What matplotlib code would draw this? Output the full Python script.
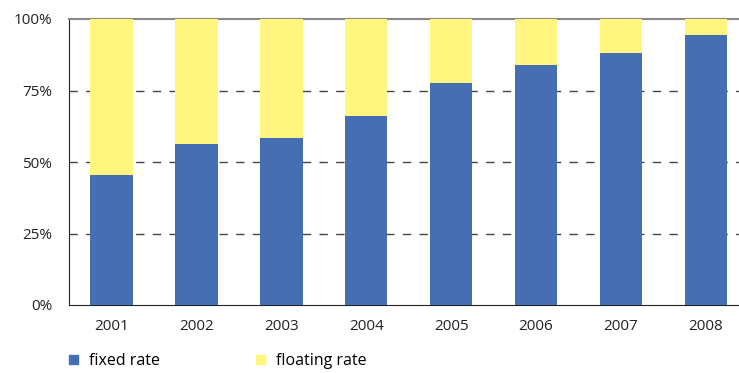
import numpy as np
import matplotlib.pyplot as plt
from matplotlib.patches import Patch

years = ['2001', '2002', '2003', '2004', '2005', '2006', '2007', '2008']
fixed = [45.5, 56.3, 58.4, 66.1, 77.6, 83.9, 88.1, 94.4]
floating = [100 - v for v in fixed]

blue = '#456eb3'
yellow = '#fff57f'

plt.rcParams['font.family'] = ['Open Sans', 'DejaVu Sans']

fig = plt.figure(figsize=(7.39, 3.73), dpi=100)
ax = fig.add_axes([69 / 739, 1 - 305 / 373, 1 - 69 / 739, 286 / 373])

x = np.arange(len(years))
ax.bar(x, fixed, width=0.5, color=blue, zorder=3)
ax.bar(x, floating, width=0.5, bottom=fixed, color=yellow, zorder=3)

ax.set_ylim(0, 100)
ax.set_xlim(-0.5, 7.39)
ax.set_yticks([0, 25, 50, 75, 100])
ax.set_yticklabels(['0%', '25%', '50%', '75%', '100%'])
ax.set_xticks(x)
ax.set_xticklabels(years)
ax.tick_params(length=0, labelsize=11, colors='#222222', pad=10)
ax.tick_params(axis='y', pad=12)

for v in [25, 50, 75]:
    ax.axhline(v, color='#444444', lw=1, ls=(0, (6, 6)), zorder=1)

ax.spines['right'].set_visible(False)
ax.spines['top'].set_color('#888888')
ax.spines['top'].set_linewidth(1.5)
ax.spines['left'].set_color('#222222')
ax.spines['bottom'].set_color('#222222')

handles = [Patch(color=blue, label='fixed rate'), Patch(color=yellow, label='floating rate')]
fig.legend(handles=handles, loc='center left', bbox_to_anchor=(69 / 739, 1 - 361 / 373), ncol=2,
           frameon=False, fontsize=11.5, handlelength=0.55, handleheight=0.55,
           columnspacing=6.0, handletextpad=0.7, borderpad=0, borderaxespad=0)

fig.savefig('out.png', dpi=100)
